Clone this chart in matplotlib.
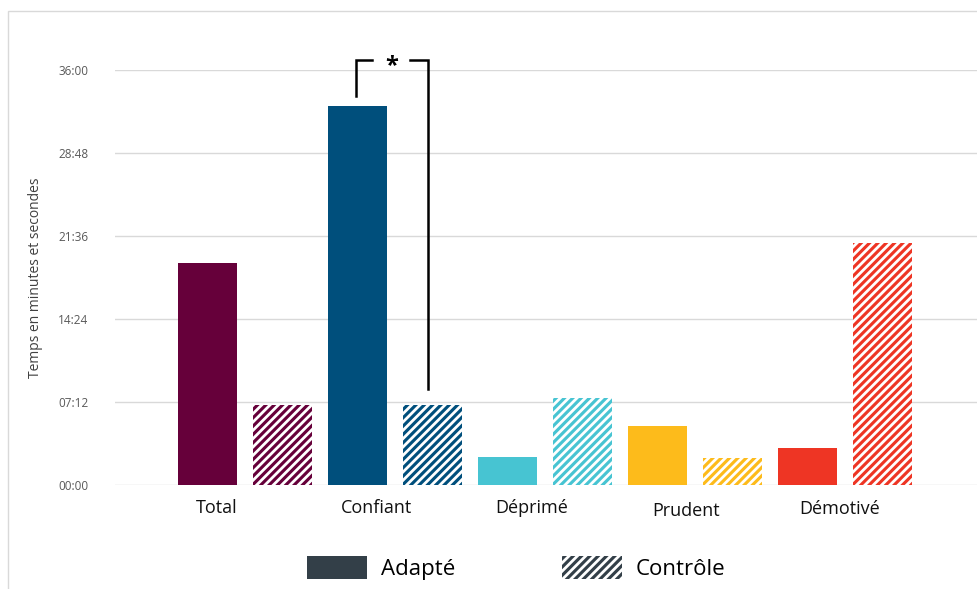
import matplotlib.pyplot as plt
import matplotlib.patches as patches
from matplotlib.ticker import FuncFormatter, MultipleLocator
import numpy as np

plt.rcParams['font.family'] = ['Open Sans', 'DejaVu Sans']
plt.rcParams['hatch.linewidth'] = 2.0

# data (seconds)
categories = ['Total', 'Confiant', 'Déprimé', 'Prudent', 'Démotivé']
adapte = [1156, 1972, 148, 306, 194]
controle = [418, 418, 455, 141, 1262]
colors = ['#66003a', '#004f7c', '#47c4d2', '#fdbb1b', '#ee3524']
legend_labels = ['Adapté', 'Contrôle']
legend_color = '#333f48'

# label nudges in pixels (the source labels are not centred on the groups)
label_dx = [-28, -18, -13, -9, -5]
label_dy = [0, 0, 0, 3, 1]

W, H = 978, 589
fig = plt.figure(figsize=(W / 100, H / 100), dpi=100)

# outer frame (cropped at right / bottom)
fig.add_artist(patches.Rectangle((8 / W, -0.1), 1.2, 1 - 11 / H + 0.1,
                                 transform=fig.transFigure, fill=False,
                                 edgecolor='#d9d9d9', linewidth=1))

ax = fig.add_axes([115 / W, 1 - 485 / H, (W - 115) / W, 415 / H])

x = np.arange(len(categories))
off = 0.25
bw = 0.39
ax.bar(x - off, adapte, bw, color=colors, linewidth=0, zorder=3)
ax.bar(x + off, controle, bw, color=colors, edgecolor='white', hatch='////',
       linewidth=0, zorder=3)

ax.set_xlim(-130 / 150, (W - 245) / 150)
ax.set_ylim(0, 2160)
ax.yaxis.set_major_locator(MultipleLocator(432))
ax.yaxis.set_major_formatter(FuncFormatter(lambda v, p: f"{int(v) // 60:02d}:{int(v) % 60:02d}"))
ax.grid(axis='y', color='#d9d9d9', linewidth=1, zorder=0)
for s in ax.spines.values():
    s.set_visible(False)
ax.tick_params(axis='y', length=0, pad=19, labelsize=8.5, labelcolor='#595959')
ax.set_xticks([])
ax.set_ylabel('Temps en minutes et secondes', fontsize=10, color='#404040')
ax.yaxis.set_label_coords(-72 / (W - 115), 0.5)

# category labels
for xi, name, dx, dy in zip(x, categories, label_dx, label_dy):
    px, _ = ax.transData.transform((xi, 0))
    fig.text((px + dx) / W, 1 - (508 + dy) / H, name, ha='center', va='center',
             fontsize=13, color='#111111')

# significance bracket between Confiant bars
i = 1
top = 2210
xl, xr = i - off - 0.01, i + off - 0.03
ax.plot([xl, xl, xl + 0.11], [adapte[i] + 55, top, top], color='black',
        linewidth=1.8, clip_on=False, solid_joinstyle='miter', zorder=5)
ax.plot([xr - 0.12, xr, xr], [top, top, controle[i] + 80], color='black',
        linewidth=1.8, clip_on=False, solid_joinstyle='miter', zorder=5)
ax.text(i - 0.02, top - 30, '*', ha='center', va='center', fontsize=17,
        fontweight='bold', clip_on=False)

handles = [patches.Patch(facecolor=legend_color, linewidth=0),
           patches.Patch(facecolor=legend_color, edgecolor='white', hatch='////', linewidth=0)]
fig.legend(handles, legend_labels, loc='center', bbox_to_anchor=(516 / W, 1 - 568 / H),
           ncol=2, frameon=False, fontsize=16, handlelength=2.7, handleheight=1.2,
           handletextpad=0.63, columnspacing=4.8)

fig.savefig('out.png', dpi=100)
